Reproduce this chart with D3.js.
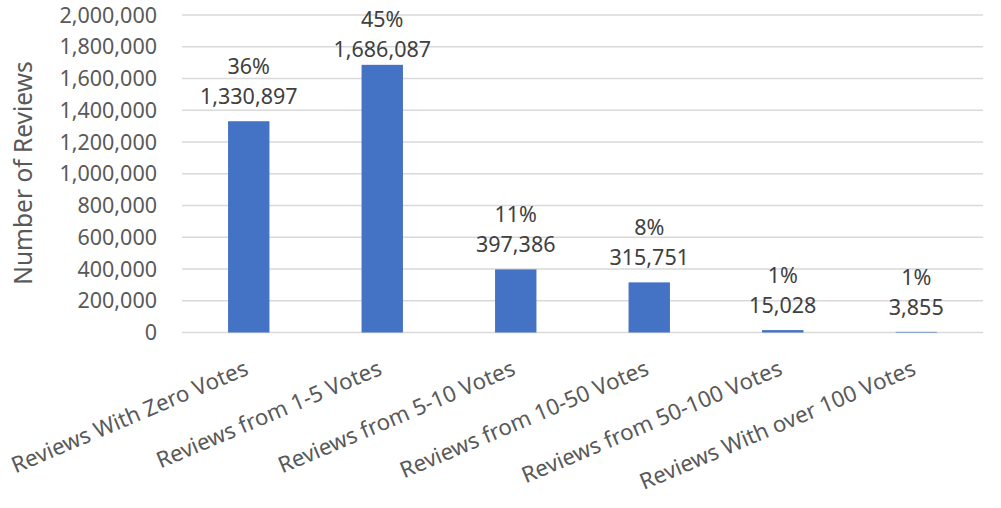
<!DOCTYPE html>
<html><head><meta charset="utf-8">
<script src="https://cdn.jsdelivr.net/npm/d3@7"></script>
<style>body{margin:0;background:#fff}svg{display:block}text{font-family:"Noto Sans",sans-serif}</style>
</head><body>
<svg id="c" width="1001" height="508"></svg>
<script>
const categories = ["Reviews With Zero Votes","Reviews from 1-5 Votes","Reviews from 5-10 Votes","Reviews from 10-50 Votes","Reviews from 50-100 Votes","Reviews With over 100 Votes"];
const values = [1330897, 1686087, 397386, 315751, 15028, 3855];
const percents = ["36%","45%","11%","8%","1%","1%"];
const yTicks = [0,200000,400000,600000,800000,1000000,1200000,1400000,1600000,1800000,2000000];

const svg = d3.select("#c");
const pLeft = 182, pRight = 983, pTop = 15, pBottom = 332.5;
const fmt = d3.format(",");
const x = d3.scaleBand().domain(categories).range([pLeft, pRight]).paddingInner(0.69).paddingOuter(0.345);
const y = d3.scaleLinear().domain([0, 2000000]).range([pBottom, pTop]);

svg.append("g").selectAll("line").data(yTicks).join("line")
  .attr("x1", pLeft).attr("x2", pRight)
  .attr("y1", d => y(d)).attr("y2", d => y(d))
  .attr("stroke", "#d9d9d9").attr("stroke-width", 1.3);

svg.append("g").selectAll("text").data(yTicks).join("text")
  .attr("x", 157).attr("y", d => y(d)).attr("dy", "0.35em")
  .attr("text-anchor", "end").attr("font-size", 21.5).attr("fill", "#595959")
  .text(d => fmt(d));

svg.append("text")
  .attr("transform", "translate(31.5,173) rotate(-90)")
  .attr("text-anchor", "middle").attr("font-size", 24.5).attr("fill", "#595959")
  .text("Number of Reviews");

svg.append("g").selectAll("rect").data(values).join("rect")
  .attr("x", (d,i) => x(categories[i])).attr("width", x.bandwidth())
  .attr("y", d => y(d)).attr("height", d => pBottom - y(d))
  .attr("fill", "#4472C4");

const lab = svg.append("g").attr("font-size", 21.5).attr("fill", "#404040").attr("text-anchor", "middle");
values.forEach((v, i) => {
  const cx = x(categories[i]) + x.bandwidth() / 2;
  let base = y(v) - 17;
  if (base - 30 < 27) base = 57;
  lab.append("text").attr("x", cx).attr("y", base).text(fmt(v));
  lab.append("text").attr("x", cx).attr("y", base - 30).text(percents[i]);
});

svg.append("g").selectAll("text").data(categories).join("text")
  .attr("transform", d => `translate(${x(d) + x.bandwidth()/2 + 1},374) rotate(-23)`)
  .attr("text-anchor", "end").attr("font-size", 22.3).attr("fill", "#595959")
  .text(d => d);
</script>
</body></html>
